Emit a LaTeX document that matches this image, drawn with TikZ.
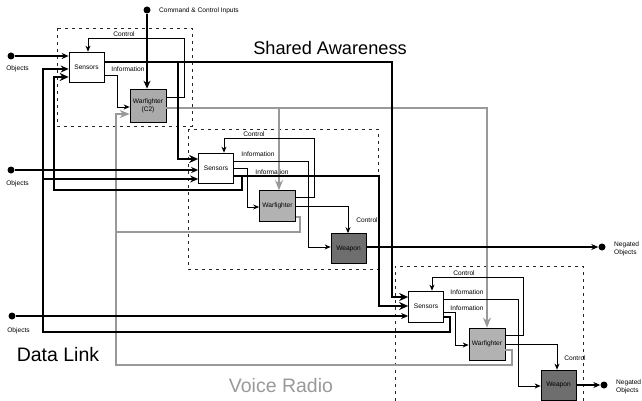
\documentclass[tikz,border=0pt]{standalone}
\usepackage{fontspec}
\setmainfont{Liberation Sans}
\usetikzlibrary{arrows.meta}
\begin{document}
\begin{tikzpicture}[x=1pt,y=-1pt,
  box/.style={draw=black,line width=0.7pt,inner sep=0pt,align=center,font=\fontsize{6.6}{7.8}\selectfont},
  sensorbox/.style={box,fill=white,minimum width=35pt,minimum height=30pt},
  wfbox/.style={box,fill=black!30,minimum width=36pt,minimum height=31pt},
  wpbox/.style={box,fill=black!57,minimum width=35pt,minimum height=30pt},
  dotnode/.style={circle,fill=black,inner sep=0pt,minimum size=7pt},
  lbl/.style={font=\fontsize{6.6}{7.8}\selectfont,inner sep=0pt,align=left},
  biglbl/.style={inner sep=0pt},
  dbox/.style={line width=0.8pt,black!85,dash pattern=on 3pt off 4pt},
  thinc/.style={line width=0.8pt,-{Stealth[length=6pt,width=5pt]}},
  objc/.style={line width=1.5pt,-{Stealth[length=7pt,width=6pt]}},
  sac/.style={line width=2.8pt,-{Stealth[length=9pt,width=8pt]}},
  dlc/.style={line width=2pt,-{Stealth[length=8pt,width=7pt]}},
  vrc/.style={line width=2.8pt,black!40,-{Stealth[length=10pt,width=8pt]}},
  vrl/.style={line width=2.8pt,black!40}
]
\useasboundingbox (0,0) rectangle (642,401);

% dashed group boxes
\draw[dbox] (57,28) rectangle (192,126);
\draw[dbox] (188,129) rectangle (378,269);
\draw[dbox] (395,401) -- (395,266) -- (583,266) -- (583,401);

% nodes
\node[sensorbox] (s1) at (86.5,67) {Sensors};
\node[wfbox,fill=black!33,minimum height=33pt] (w1) at (148,105.5) {Warfighter\\(C2)};
\node[sensorbox] (s2) at (216,168) {Sensors};
\node[wfbox] (w2) at (277.5,206) {Warfighter};
\node[wpbox] (p2) at (348.5,248.5) {Weapon};
\node[sensorbox,minimum height=31pt] (s3) at (426,306.5) {Sensors};
\node[wfbox,minimum height=32pt] (w3) at (487,344) {Warfighter};
\node[wpbox] (p3) at (558.5,385) {Weapon};

\node[dotnode] (o1) at (11,56) {};
\node[dotnode] (cc) at (147,10) {};
\node[dotnode] (o2) at (11,170) {};
\node[dotnode] (o3) at (12,316) {};
\node[dotnode] (n1) at (602,247) {};
\node[dotnode] (n2) at (604,385) {};

% text labels
\node[lbl] at (17.5,69) {Objects};
\node[lbl] at (17.5,184) {Objects};
\node[lbl] at (18.5,331) {Objects};
\node[lbl,anchor=west] at (159,11) {Command \& Control Inputs};
\node[lbl,anchor=west] at (614,249) {Negated\\Objects};
\node[lbl,anchor=west] at (616,387) {Negated\\Objects};
\node[biglbl,font=\fontsize{18.2}{20}\selectfont] at (330,48) {Shared Awareness};
\node[biglbl,font=\fontsize{19.5}{21}\selectfont] at (58,355) {Data Link};
\node[biglbl,font=\fontsize{19.5}{21}\selectfont,text=black!40] at (281,386) {Voice Radio};

\node[lbl] at (124,34) {Control};
\node[lbl] at (128,69) {Information};
\node[lbl] at (254,134) {Control};
\node[lbl] at (258,154) {Information};
\node[lbl] at (272,172) {Information};
\node[lbl] at (367,220) {Control};
\node[lbl] at (464,273) {Control};
\node[lbl] at (467,292) {Information};
\node[lbl] at (467,308) {Information};
\node[lbl] at (575,358) {Control};

% voice radio (gray)
\draw[vrc] (w1.east |- 0,108) -- (487,108) -- (w3.north -| 487,0);
\draw[vrc] (279,108) -- (w2.north -| 279,0);
\draw[vrc] (w2.east |- 0,217) -- (300,217) -- (300,232) -- (116,232) -- (116,114) -- (w1.west |- 0,114);
\draw[vrl] (w3.east |- 0,350) -- (512,350) -- (512,365) -- (116,365) -- (116,232);

% group 1 internal
\draw[thinc] (w1.east |- 0,97) -- (184,97) -- (184,38) -- (88,38) -- (s1.north -| 88,0);
\draw[thinc] (s1.east |- 0,75) -- (117,75) -- (117,107) -- (w1.west |- 0,107);
\draw[line width=2pt,-{Stealth[length=8pt,width=7pt]}] (cc) -- (cc |- w1.north);
\draw[objc] (o1) -- (s1.west |- o1);

% group 2 internal
\draw[thinc] (w2.east |- 0,197) -- (314,197) -- (314,138) -- (224,138) -- (s2.north -| 224,0);
\draw[thinc] (s2.east |- 0,161) -- (308,161) -- (308,247) -- (p2.west |- 0,247);
\draw[thinc] (s2.east |- 0,168) -- (247,168) -- (247,207) -- (w2.west |- 0,207);
\draw[thinc] (w2.east |- 0,206) -- (348,206) -- (p2.north -| 348,0);
\draw[objc] (p2.east |- 0,247) -- (n1);
\draw[objc] (o2) -- (s2.west |- o2);

% group 3 internal
\draw[thinc] (w3.east |- 0,335) -- (523,335) -- (523,277) -- (432,277) -- (s3.north -| 432,0);
\draw[thinc] (s3.east |- 0,299) -- (518,299) -- (518,386) -- (p3.west |- 0,386);
\draw[thinc] (s3.east |- 0,312) -- (455,312) -- (455,345) -- (w3.west |- 0,345);
\draw[thinc] (w3.east |- 0,344) -- (557,344) -- (p3.north -| 557,0);
\draw[objc] (p3.east |- 0,385) -- (n2);
\draw[objc] (o3) -- (s3.west |- o3);

% shared awareness (thick black)
\draw[sac] (s1.east |- 0,62) -- (392,62) -- (392,297) -- (s3.west |- 0,297);
\draw[sac] (178,62) -- (178,159) -- (s2.west |- 0,159);
\draw[sac] (s2.east |- 0,176) -- (379,176) -- (379,306) -- (s3.west |- 0,306);
\draw[sac] (242,176) -- (242,190) -- (54,190) -- (54,77) -- (s1.west |- 0,77);

% data link
\draw[dlc] (s3.east |- 0,317) -- (450,317) -- (450,332) -- (43,332) -- (43,69) -- (s1.west |- 0,69);
\draw[dlc] (43,179) -- (s2.west |- 0,179);
\end{tikzpicture}
\end{document}
